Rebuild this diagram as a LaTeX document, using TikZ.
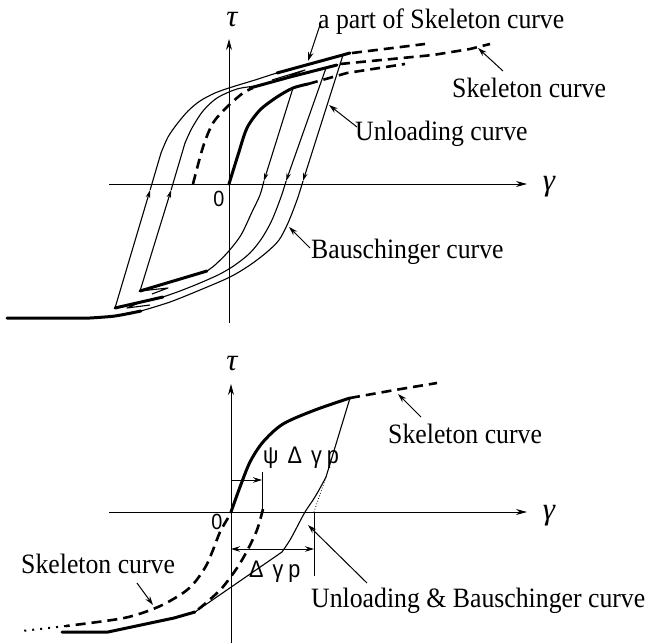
\documentclass[tikz,border=0pt]{standalone}
\usepackage{fontspec}
\setmainfont[FakeStretch=0.92]{Liberation Serif}
\newfontfamily\sansf[FakeStretch=0.9]{Liberation Sans}
\newfontfamily\greekf{Liberation Serif}
\usetikzlibrary{arrows.meta}
\begin{document}
\begin{tikzpicture}[x=1pt,y=-1pt,
  axisline/.style={line width=0.9pt,-{Stealth[length=11pt,width=6pt]}},
  thinc/.style={line width=1.1pt,line join=round},
  thickc/.style={line width=3pt,line join=round,line cap=round},
  dashc/.style={line width=2.6pt,dash pattern=on 10pt off 6pt},
  lbl/.style={inner sep=0pt,anchor=base west,font=\fontsize{28}{30}\selectfont},
  glbl/.style={inner sep=0pt,font=\fontsize{31}{33}\selectfont\greekf\itshape},
  zlbl/.style={inner sep=0pt,font=\fontsize{22}{24}\selectfont\sansf},
  slbl/.style={inner sep=0pt,anchor=base west,font=\fontsize{24}{26}\selectfont\sansf},
  ptr/.style={line width=1pt,-{Stealth[length=9pt,width=5.5pt]}},
  midarr/.style={thinc,-{Stealth[length=8pt,width=4.5pt]}}]
\useasboundingbox (0,0) rectangle (648,643);

% ================= TOP DIAGRAM =================
\coordinate (xa1) at (109,184); \coordinate (xa2) at (527,184);
\coordinate (ya1) at (229,323); \coordinate (ya2) at (229,39);
\draw[axisline] (xa1) -- (xa2);
\draw[axisline] (ya1) -- (ya2);
\node[glbl] (tau1) at (232,20) {τ};
\node[glbl] (gam1) at (549,187) {γ};
\node[zlbl] (zero1) at (219,199) {0};

% initial skeleton
\draw[thickc] plot[smooth] coordinates {(229,184) (238,155) (247,128) (260,110) (277,97) (293,88) (308,84)};
% shifted skeleton (dashed) left
\draw[dashc] plot[smooth] coordinates {(193,184) (203,147) (213,123) (227,107) (243,93) (253,88)};
% parts of skeleton at top
\draw[thickc] (250,88) -- (290,77) -- (337,65);
\draw[thickc] (277,73) -- (350,53);
% dashed continuations
\draw[dashc] (308,84) -- (347,73) -- (405,64);
\draw[dashc] (340,64) -- (433,55) -- (470,49) -- (490,44);
\draw[dashc] (352,53) -- (425,44);

% reloading lines and upper curves
\coordinate (V2) at (140,291); \coordinate (V3) at (115,308);
\coordinate (R2t) at (171.1,190); \coordinate (R3t) at (150.1,190);
\draw[midarr] (V3) -- (R3t);
\draw[thinc] (R3t) -- (161,153);
\draw[thinc] plot[smooth] coordinates {(161,153) (168,137) (177,124) (188,111) (200,101) (215,93) (232,87) (255,80) (277,73) (317,62) (343,55)};
\draw[midarr] (V2) -- (R2t);
\draw[thinc] (R2t) -- (185,143);
\draw[thinc] plot[smooth] coordinates {(185,143) (192,128) (203,111) (217,98) (237,89) (256,86)};

% unloading lines and Bauschinger curves
\coordinate (P1) at (293,88); \coordinate (P2) at (326,68); \coordinate (P3) at (343,55);
\coordinate (U1t) at (263.9,181); \coordinate (U2t) at (286.1,181); \coordinate (U3t) at (303,181);
\draw[midarr] (P1) -- (U1t);
\draw[thinc] plot[smooth] coordinates {(263.9,181) (260,195) (252,212) (241,235) (228,252) (215,265) (207,271)};
\draw[thickc] (207,271) -- (V2);
\draw[midarr] (P2) -- (U2t);
\draw[thinc] plot[smooth] coordinates {(286.1,181) (281,197) (272,220) (262,238) (250,253) (235,265) (220,274) (200,283) (180,291) (163,297)};
\draw[thickc] (163,297) -- (V3);
\draw[midarr] (P3) -- (U3t);
\draw[thinc] plot[smooth] coordinates {(303,181) (297,200) (288,223) (279,240) (267,252) (250,265) (230,277) (200,290) (170,302) (141,311)};
\draw[thickc] plot[smooth] coordinates {(141,311) (115,316) (90,318)} -- (7,318);
% zigzags
\draw[thinc] (V2) -- (168,288) -- (152,294);
\draw[thinc] (V3) -- (141,302) -- (127,308) -- (150,305);
\draw[thinc] (272,80) -- (305,70) -- (290,76);

% labels top
\node[lbl] (L1) at (318,28) {a part of Skeleton curve};
\coordinate (L1a) at (321,22); \coordinate (L1b) at (308,61);
\draw[ptr] (L1a) -- (L1b);
\node[lbl] (L2) at (452,97) {Skeleton curve};
\coordinate (L2a) at (503,71); \coordinate (L2b) at (478,48);
\draw[ptr] (L2a) -- (L2b);
\node[lbl] (L3) at (355,140) {Unloading curve};
\coordinate (L3a) at (357,127); \coordinate (L3b) at (329,105);
\draw[ptr] (L3a) -- (L3b);
\node[lbl] (L4) at (311,258) {Bauschinger curve};
\coordinate (L4a) at (310,248); \coordinate (L4b) at (289,227);
\draw[ptr] (L4a) -- (L4b);

% ================= BOTTOM DIAGRAM =================
\coordinate (xb1) at (109,512); \coordinate (xb2) at (527,512);
\coordinate (yb1) at (231,643); \coordinate (yb2) at (231,384);
\draw[axisline] (xb1) -- (xb2);
\draw[axisline] (yb1) -- (yb2);
\node[glbl] (tau2) at (232,364) {τ};
\node[glbl] (gam2) at (549,516) {γ};
\node[zlbl] (zero2) at (217,522) {0};

\coordinate (Q) at (350,398);
\draw[thickc] plot[smooth] coordinates {(231,512) (240,487) (250,462) (263,442) (283,424) (315,410) (350,398)};
\draw[dashc] plot[smooth] coordinates {(350,398) (395,390) (437,383)};
\coordinate (K) at (326,477);
\draw[thinc] (Q) -- (K);
\draw[thinc] plot[smooth] coordinates {(326,477) (319,490) (313,500) (305,512) (297,527) (290,540) (282,552)} -- (195,612);
\draw[line width=0.8pt,dotted] (K) -- (314,512);
\draw[thickc] (195,612) -- (174,618) -- (108,632) -- (62,632);
\draw[dashc] plot[smooth] coordinates {(263,509) (257,530) (247,551) (237,568) (222,588) (207,602) (195,612)};
\draw[dashc] plot[smooth] coordinates {(228,518) (220,532) (213,550) (206,566) (195,582) (183,593) (158,607) (124,618) (66,626)};
\draw[line width=2pt,dash pattern=on 2pt off 6pt] (66,626) -- (22,631);

% dimension marks
\coordinate (ps1) at (231,480); \coordinate (ps2) at (262,480);
\draw[line width=1pt,-{Stealth[length=9pt,width=5.5pt]}] (ps1) -- (ps2);
\draw[line width=1pt] (262,472) -- (262,510);
\coordinate (dg1) at (231,549); \coordinate (dg2) at (314,549);
\draw[line width=1pt,{Stealth[length=9pt,width=5.5pt]}-{Stealth[length=9pt,width=5.5pt]}] (dg1) -- (dg2);
\draw[line width=1pt] (314,512) -- (314,576);
\node[slbl] (psl) at (263,463) {ψ\hspace{9pt}Δ\hspace{9pt}γ\hspace{5pt}p};
\node[slbl] (dgl) at (249,577) {Δ\hspace{9pt}γ\hspace{5pt}p};

% labels bottom
\node[lbl] (L5) at (388,443) {Skeleton curve};
\coordinate (L5a) at (421,417); \coordinate (L5b) at (398,394);
\draw[ptr] (L5a) -- (L5b);
\node[lbl] (L6) at (21,573) {Skeleton curve};
\coordinate (L6a) at (137,583); \coordinate (L6b) at (153,605);
\draw[ptr] (L6a) -- (L6b);
\node[lbl] (L7) at (311,607) {Unloading \& Bauschinger curve};
\coordinate (L7a) at (367,583); \coordinate (L7b) at (308,525);
\draw[ptr] (L7a) -- (L7b);
\end{tikzpicture}
\end{document}
